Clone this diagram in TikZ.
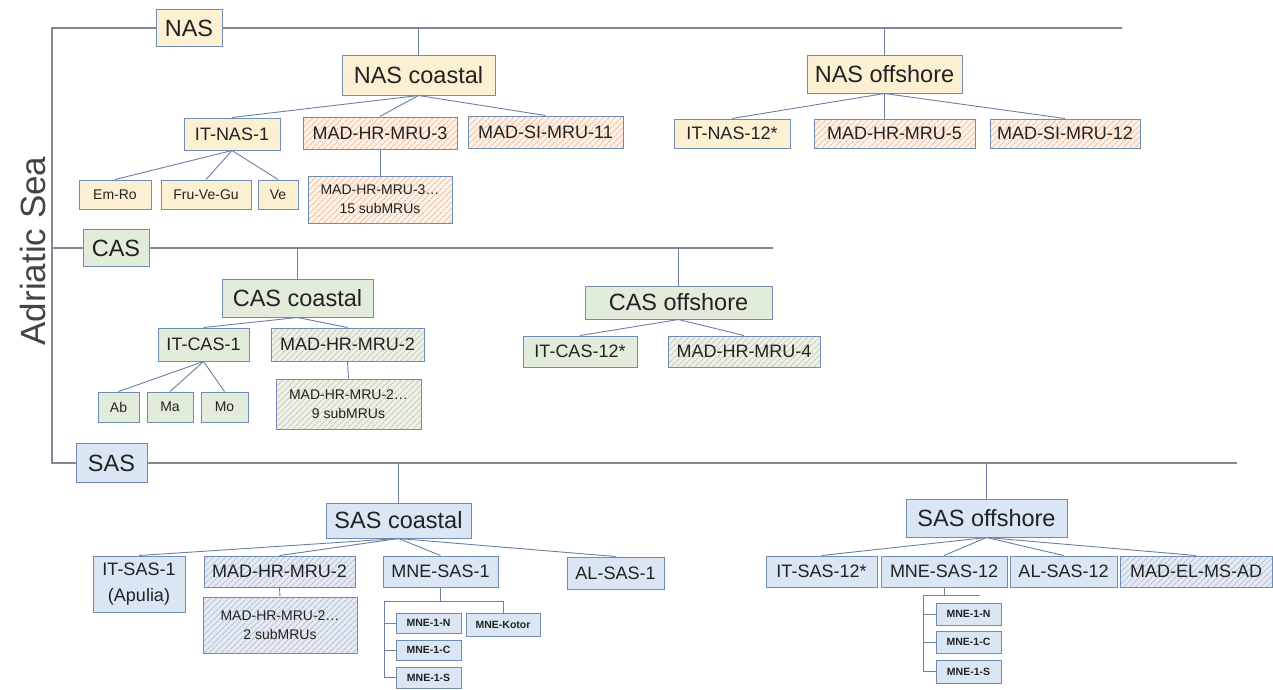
\documentclass[tikz,border=0pt]{standalone}
\usepackage{fontspec}
\setmainfont{Liberation Sans}
\usetikzlibrary{patterns.meta}
\definecolor{bord}{HTML}{6F8DB0}
\definecolor{connc}{HTML}{6C7FA3}
\definecolor{lvlc}{HTML}{808894}
\definecolor{txt}{HTML}{222222}
\definecolor{nasfill}{HTML}{FCF0D2}
\definecolor{casfill}{HTML}{E2ECDA}
\definecolor{sasfill}{HTML}{DAE6F3}
\definecolor{nasbg}{HTML}{FDF3E6}
\definecolor{nashatch}{HTML}{F0BFAA}
\definecolor{casbg}{HTML}{EDF1E7}
\definecolor{cashatch}{HTML}{C6CDB9}
\definecolor{sasbg}{HTML}{E5EBF4}
\definecolor{sashatch}{HTML}{B6C1D1}
\definecolor{adrc}{HTML}{444444}
\newcommand\fbig{\fontsize{23.5}{26}\selectfont}
\newcommand\fmid{\fontsize{18}{26}\selectfont}
\newcommand\fsmall{\fontsize{14}{19}\selectfont}
\newcommand\ftiny{\fontsize{10.5}{12}\selectfont\bfseries}
\tikzset{
  bx/.style={draw=bord, line width=1pt, inner sep=0pt, align=center, text=txt, font=\fmid},
  hatch/.style={pattern={Lines[angle=45,distance=4pt,line width=1.2pt]}},
  nas/.style={bx, fill=nasfill},
  cas/.style={bx, fill=casfill},
  sas/.style={bx, fill=sasfill},
  nash/.style={bx, preaction={fill=nasbg}, hatch, pattern color=nashatch},
  cash/.style={bx, preaction={fill=casbg}, hatch, pattern color=cashatch},
  sash/.style={bx, preaction={fill=sasbg}, hatch, pattern color=sashatch},
  conn/.style={draw=connc, line width=0.9pt},
  lvl/.style={draw=lvlc, line width=1.1pt},
  sz/.style 2 args={minimum width=#1pt, minimum height=#2pt}
}
\begin{document}
\begin{tikzpicture}[x=1pt,y=-1pt]
\useasboundingbox (0,0) rectangle (1273,689);
\fill[white] (0,0) rectangle (1273,689);

\node[rotate=90, font=\fontsize{35}{40}\selectfont, text=adrc] (adr) at (33,251) {Adriatic Sea};

% ---- top level
\node[nas, sz={66}{37}, font=\fbig] (NAS) at (189,28) {NAS};
\node[cas, sz={66}{37}, font=\fbig] (CAS) at (116,248) {CAS};
\node[sas, sz={71}{39}, font=\fbig] (SAS) at (111.5,463) {SAS};

\coordinate (top) at (52,28);
\coordinate (nasE) at (1122,28);
\coordinate (casL) at (52,248);
\coordinate (casE) at (773,248);
\coordinate (sasL) at (52,463);
\coordinate (sasE) at (1237,463);

% ---- second level
\node[nas, sz={153}{40}, font=\fbig] (nasco) at (418.5,75) {NAS coastal};
\node[nas, sz={155}{38}, font=\fbig] (nasof) at (884.5,74) {NAS offshore};
\node[cas, sz={151}{38}, font=\fbig] (casco) at (297.5,298) {CAS coastal};
\node[cas, sz={187}{33}, font=\fbig] (casof) at (678.5,302.5) {CAS offshore};
\node[sas, sz={145}{35}, font=\fbig] (sasco) at (398.5,520.5) {SAS coastal};
\node[sas, sz={161}{38}, font=\fbig] (sasof) at (986.5,518) {SAS offshore};

% ---- NAS children
\node[nas, sz={96}{32}] (itnas1) at (232,134) {IT-NAS-1};
\node[nash, sz={154}{32}] (madhr3) at (380,133) {MAD-HR-MRU-3};
\node[nash, sz={155}{32}] (madsi11) at (545.5,132) {MAD-SI-MRU-11};
\node[nas, sz={72}{29}, font=\fsmall] (emro) at (115,194.5) {Em-Ro};
\node[nas, sz={90}{29}, font=\fsmall] (fru) at (206,194.5) {Fru-Ve-Gu};
\node[nas, sz={40}{29}, font=\fsmall] (ve) at (278,194.5) {Ve};
\node[nash, sz={144}{47}, font=\fsmall] (madhr3s) at (380,199.5) {MAD-HR-MRU-3…\\15 subMRUs};
\node[nas, sz={116}{29}] (itnas12) at (732,133.5) {IT-NAS-12*};
\node[nash, sz={161}{29}] (madhr5) at (894.5,133.5) {MAD-HR-MRU-5};
\node[nash, sz={150}{29}] (madsi12) at (1065,133.5) {MAD-SI-MRU-12};

% ---- CAS children
\node[cas, sz={91}{33}] (itcas1) at (203.5,344.5) {IT-CAS-1};
\node[cash, sz={153}{33}] (madhr2c) at (347.5,344.5) {MAD-HR-MRU-2};
\node[cash, sz={145}{50}, font=\fsmall] (madhr2cs) at (348.5,404) {MAD-HR-MRU-2…\\9 subMRUs};
\node[cas, sz={41}{30}, font=\fsmall] (ab) at (118.5,407) {Ab};
\node[cas, sz={46}{30}, font=\fsmall] (ma) at (170,407) {Ma};
\node[cas, sz={47}{30}, font=\fsmall] (mo) at (224.5,407) {Mo};
\node[cas, sz={114}{31}] (itcas12) at (580,351.5) {IT-CAS-12*};
\node[cash, sz={152}{31}] (madhr4) at (744,351.5) {MAD-HR-MRU-4};

% ---- SAS children
\node[sas, sz={92}{56}] (itsas1) at (139,584) {IT-SAS-1\\(Apulia)};
\node[sash, sz={151}{31}] (madhr2s) at (279.5,571.5) {MAD-HR-MRU-2};
\node[sash, sz={154}{56}, font=\fsmall] (madhr2ss) at (280,625) {MAD-HR-MRU-2…\\2 subMRUs};
\node[sas, sz={115}{31}] (mnesas1) at (440.5,571.5) {MNE-SAS-1};
\node[sas, sz={97}{32}] (alsas1) at (615.5,573) {AL-SAS-1};
\node[sas, sz={65}{20}, font=\ftiny] (mnen) at (428.5,623) {MNE-1-N};
\node[sas, sz={74}{23}, font=\ftiny] (mnek) at (503,624.5) {MNE-Kotor};
\node[sas, sz={65}{20}, font=\ftiny] (mnec) at (428.5,650) {MNE-1-C};
\node[sas, sz={65}{21}, font=\ftiny] (mnes) at (428.5,677.5) {MNE-1-S};

\node[sas, sz={111}{31}] (itsas12) at (821.5,571.5) {IT-SAS-12*};
\node[sas, sz={126}{31}] (mnesas12) at (944,571.5) {MNE-SAS-12};
\node[sas, sz={107}{31}] (alsas12) at (1063.5,571.5) {AL-SAS-12};
\node[sash, sz={152}{31}] (madel) at (1196,571.5) {MAD-EL-MS-AD};
\node[sas, sz={65}{22}, font=\ftiny] (mnen2) at (968.5,614) {MNE-1-N};
\node[sas, sz={65}{22}, font=\ftiny] (mnec2) at (968.5,642) {MNE-1-C};
\node[sas, sz={65}{23}, font=\ftiny] (mnes2) at (968.5,671.5) {MNE-1-S};

% ---- level lines
\draw[lvl] (NAS.west) -- (top) -- (sasL) -- (SAS.west);
\draw[lvl] (casL) -- (CAS.west);
\draw[lvl] (NAS.east) -- (nasE);
\draw[lvl] (CAS.east) -- (casE);
\draw[lvl] (SAS.east) -- (sasE);
\draw[conn] (nasco.north) -- (nasco.north |- NAS.east);
\draw[conn] (nasof.north) -- (nasof.north |- NAS.east);
\draw[conn] (casco.north) -- (casco.north |- CAS.east);
\draw[conn] (casof.north) -- (casof.north |- CAS.east);
\draw[conn] (sasco.north) -- (sasco.north |- SAS.east);
\draw[conn] (sasof.north) -- (sasof.north |- SAS.east);

% ---- NAS connectors
\foreach \c in {itnas1,madhr3,madsi11} \draw[conn] (nasco.south) -- (\c.north);
\foreach \c in {emro,fru,ve} \draw[conn] (itnas1.south) -- (\c.north);
\draw[conn] (madhr3.south) -- (madhr3s.north);
\draw[conn] (nasof.south) -- (itnas12.north);
\draw[conn] (nasof.south) -- (nasof.south |- madhr5.north);
\draw[conn] (nasof.south) -- (madsi12.north);

% ---- CAS connectors
\foreach \c in {itcas1,madhr2c} \draw[conn] (casco.south) -- (\c.north);
\foreach \c in {ab,ma,mo} \draw[conn] (itcas1.south) -- (\c.north);
\draw[conn] (madhr2c.south) -- (madhr2cs.north);
\foreach \c in {itcas12,madhr4} \draw[conn] (casof.south) -- (\c.north);

% ---- SAS connectors
\foreach \c in {itsas1,madhr2s,mnesas1,alsas1} \draw[conn] (sasco.south) -- (\c.north);
\draw[conn] (madhr2s.south) -- (madhr2ss.north);
\foreach \c in {itsas12,mnesas12,alsas12,madel} \draw[conn] (sasof.south) -- (\c.north);

\coordinate (m1h) at (384,601);
\draw[conn] (mnesas1.south) -- (mnesas1.south |- m1h);
\draw[conn] (m1h) -- (mnek.north |- m1h) -- (mnek.north);
\draw[conn] (m1h) -- (m1h |- mnes.west) -- (mnes.west);
\draw[conn] (m1h |- mnen.west) -- (mnen.west);
\draw[conn] (m1h |- mnec.west) -- (mnec.west);

\coordinate (m2h) at (923,595);
\coordinate (m2r) at (980,595);
\draw[conn] (mnesas12.south) -- (mnesas12.south |- m2h);
\draw[conn] (m2h) -- (m2r);
\draw[conn] (m2h) -- (m2h |- mnes2.west) -- (mnes2.west);
\draw[conn] (m2h |- mnen2.west) -- (mnen2.west);
\draw[conn] (m2h |- mnec2.west) -- (mnec2.west);
\end{tikzpicture}
\end{document}
